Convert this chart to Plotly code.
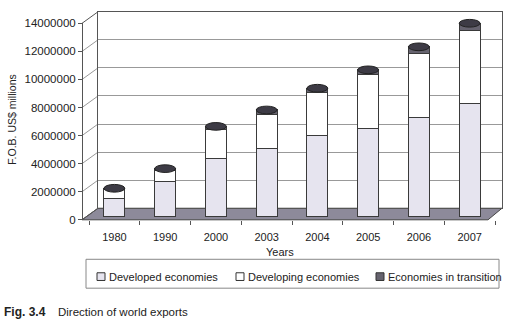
import plotly.graph_objects as go

# ---------------- data ----------------
years = ["1980", "1990", "2000", "2003", "2004", "2005", "2006", "2007"]
developed = [1300000, 2540000, 4190000, 4870000, 5830000, 6310000, 7070000, 8100000]
developing = [620000, 750000, 2060000, 2410000, 3020000, 3850000, 4600000, 5150000]
transition = [120000, 150000, 200000, 340000, 320000, 320000, 450000, 550000]
y_tick_vals = [0, 2000000, 4000000, 6000000, 8000000, 10000000, 12000000, 14000000]
series_names = ["Developed economies", "Developing economies", "Economies in transition"]
series_colors = ["#e6e4ef", "#ffffff", "#66636f"]

# ---------------- geometry helpers (paper px) ----------------
W, H = 512, 325
def px(x):
    return x / W
def py(y):
    return 1 - y / H

FRONT_X, BACK_X = 82, 98
FRONT_Y0, FRONT_Y1 = 222, 18      # front axis: 0 and 14M
BACK_Y0, BACK_Y1 = 210, 6         # back wall: 0 and 14M
YMAX = 14000000
BAR_Y0 = 219                      # bars sit at mid depth
BAR_YMAX = 14500000
BAR_PX_PER = (FRONT_Y0 - FRONT_Y1) / YMAX
BAR_Y1 = BAR_Y0 - BAR_YMAX * BAR_PX_PER

xs = list(range(len(years)))
totals = [a + b + c for a, b, c in zip(developed, developing, transition)]

fig = go.Figure()

line_col = "#3a3a3a"
for vals, name, col in zip([developed, developing, transition], series_names, series_colors):
    fig.add_trace(go.Bar(x=xs, y=vals, name=name, xaxis="x2", yaxis="y2", width=0.41,
                         marker=dict(color=col, line=dict(color=line_col, width=1)),
                         showlegend=False))
# empty traces so the wall and front-axis subplots are drawn
fig.add_trace(go.Scatter(x=[], y=[], xaxis="x", yaxis="y", showlegend=False, hoverinfo="skip"))
fig.add_trace(go.Scatter(x=[], y=[], xaxis="x2", yaxis="y3", showlegend=False, hoverinfo="skip"))

shapes = []
# floor
shapes.append(dict(type="path", xref="paper", yref="paper", layer="below",
                   path=f"M {px(FRONT_X)},{py(FRONT_Y0)} L {px(488)},{py(FRONT_Y0)} "
                        f"L {px(502)},{py(BACK_Y0)} L {px(BACK_X)},{py(BACK_Y0)} Z",
                   fillcolor="#8d8a9a", line=dict(color="#444", width=1)))
# side wall diagonals
for v in y_tick_vals:
    yf = FRONT_Y0 + (FRONT_Y1 - FRONT_Y0) * v / YMAX
    yb = BACK_Y0 + (BACK_Y1 - BACK_Y0) * v / YMAX
    shapes.append(dict(type="line", xref="paper", yref="paper", layer="below",
                       x0=px(FRONT_X), y0=py(yf), x1=px(BACK_X), y1=py(yb),
                       line=dict(color="#555" if v in (0, YMAX) else "#999", width=1)))
# cylinder caps
cap_half = 4 / BAR_PX_PER
for i, t in zip(xs, totals):
    shapes.append(dict(type="circle", xref="x2", yref="y2", layer="above",
                       x0=i - 0.205, x1=i + 0.205, y0=t - cap_half, y1=t + cap_half,
                       fillcolor="#3d3b45", line=dict(color="#222", width=1)))

# manual legend (box, swatches)
shapes.append(dict(type="rect", xref="paper", yref="paper", x0=px(86), x1=px(499),
                   y0=py(293), y1=py(263), line=dict(color="#888", width=1),
                   fillcolor="rgba(0,0,0,0)"))
legend_x = [97, 236, 376]
for lx, col in zip(legend_x, series_colors):
    shapes.append(dict(type="rect", xref="paper", yref="paper", x0=px(lx), x1=px(lx + 8),
                       y0=py(285), y1=py(277), fillcolor=col, line=dict(color="#333", width=1)))

font = dict(family="Liberation Sans, Arial, sans-serif", size=11, color="#222")

annotations = [
    dict(text="F.O.B. US$ millions", xref="paper", yref="paper", x=px(12), y=py(118),
         xanchor="center", yanchor="middle", textangle=-90, showarrow=False,
         font=dict(font, size=10.5)),
    dict(text="Years", xref="paper", yref="paper", x=px(280), y=py(255),
         xanchor="center", yanchor="middle", showarrow=False, font=font),
    dict(text="<b>Fig. 3.4</b>", xref="paper", yref="paper", x=px(2), y=py(318),
         xanchor="left", yanchor="middle", showarrow=False, font=dict(font, size=12)),
    dict(text="Direction of world exports", xref="paper", yref="paper", x=px(56), y=py(318),
         xanchor="left", yanchor="middle", showarrow=False, font=dict(font, size=11.5)),
]
for lx, name in zip(legend_x, series_names):
    annotations.append(dict(text=name, xref="paper", yref="paper", x=px(lx + 10), y=py(281),
                            xanchor="left", yanchor="middle", showarrow=False, font=font))

fig.update_layout(
    width=W, height=H,
    margin=dict(l=0, r=0, t=0, b=0, pad=0),
    paper_bgcolor="white", plot_bgcolor="rgba(0,0,0,0)",
    font=font,
    barmode="stack",
    showlegend=False,
    shapes=shapes,
    annotations=annotations,
    # back wall
    xaxis=dict(domain=[px(BACK_X), px(502)], range=[0, 1], anchor="y",
               showgrid=False, showticklabels=False, zeroline=False, ticks="",
               showline=True, mirror=True, linecolor="#555", linewidth=1),
    yaxis=dict(domain=[py(BACK_Y0), py(BACK_Y1)], range=[0, YMAX], anchor="x",
               tickvals=y_tick_vals, showticklabels=False, showgrid=True, ticks="",
               gridcolor="#999", gridwidth=1, zeroline=False,
               showline=True, mirror=True, linecolor="#555", linewidth=1),
    # bars
    xaxis2=dict(domain=[px(89), px(495)], range=[-0.5, len(years) - 0.5], anchor="y3",
                tickvals=xs, ticktext=years, ticks="", showgrid=False, zeroline=False,
                showline=False, tickfont=font, ticklabelstandoff=9,
                minor=dict(tickvals=[i - 0.5 for i in range(len(years) + 1)], ticks="outside",
                           ticklen=4, tickcolor="#555", showgrid=False)),
    yaxis2=dict(domain=[py(BAR_Y0), py(BAR_Y1)], range=[0, BAR_YMAX], anchor="x2",
                showticklabels=False, ticks="", showgrid=False, zeroline=False, showline=False),
    # front value axis
    yaxis3=dict(domain=[py(FRONT_Y0), py(FRONT_Y1)], range=[0, YMAX], anchor="free",
                position=px(FRONT_X), tickvals=y_tick_vals, tickformat="d",
                ticks="outside", ticklen=4, tickcolor="#555", showgrid=False, zeroline=False,
                showline=True, linecolor="#555", linewidth=1,
                tickfont=dict(font, size=11.5)),
)

fig.write_html("out.html")
